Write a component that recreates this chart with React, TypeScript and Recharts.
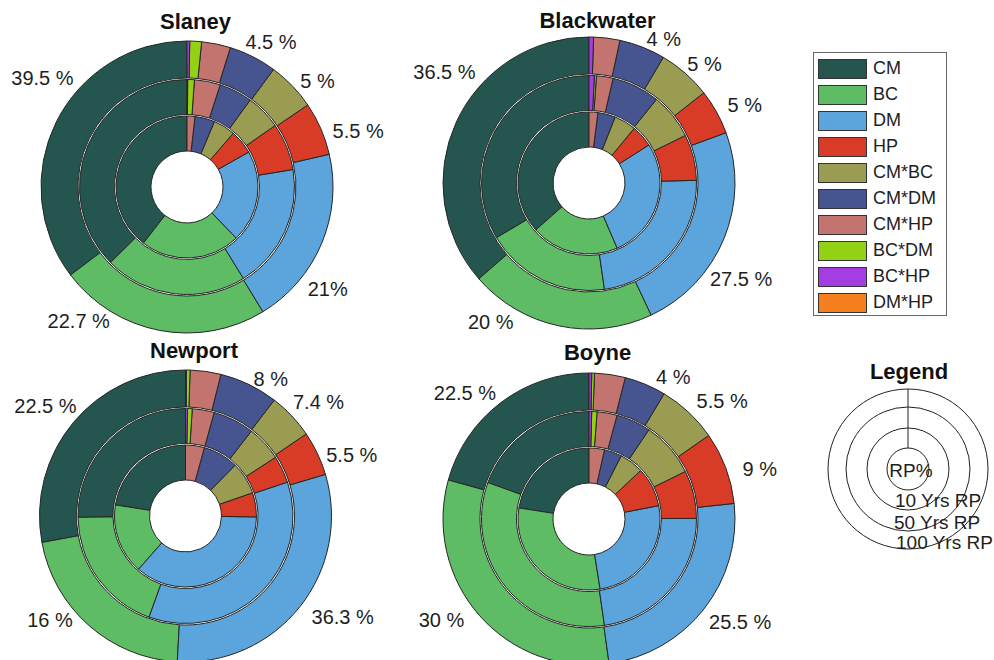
import React from 'react';
import { PieChart, Pie, Cell } from 'recharts';

const categories = ['CM', 'BC', 'DM', 'HP', 'CM*BC', 'CM*DM', 'CM*HP', 'BC*DM', 'BC*HP', 'DM*HP'];
const colors = ['#24564f', '#5dbc64', '#5ba4dc', '#d83b26', '#9a9c52', '#46558f', '#c3746f', '#92d113', '#a53ee2', '#f6801f'];
const ringNames = ['10 Yrs RP', '50 Yrs RP', '100 Yrs RP'];

// share (%) of each category, inner ring = 10 yrs, middle = 50 yrs, outer = 100 yrs
const slaney10 = [39.5, 22.7, 21, 5.5, 5, 4.5, 1.8, 0, 0, 0];
const slaney50 = [37.4, 21.4, 18.8, 7.1, 5.3, 5.0, 3.9, 1.0, 0.1, 0];
const slaney100 = [35.3, 23.4, 19.9, 5.9, 5.4, 5.3, 3.2, 1.3, 0.3, 0];
const slaneyLabels = ['39.5 %', '22.7 %', '21%', '5.5 %', '5 %', '4.5 %'];

const blackwater10 = [36.5, 20, 27.5, 5, 5, 4, 2, 0, 0, 0];
const blackwater50 = [33.5, 18.8, 23.1, 6.9, 6.9, 7.2, 2.5, 0.3, 0.8, 0];
const blackwater100 = [36.4, 20.6, 23.6, 5.0, 5.9, 5.1, 2.9, 0, 0.5, 0];
const blackwaterLabels = ['36.5 %', '20 %', '27.5 %', '5 %', '5 %', '4 %'];

const newport10 = [22.5, 16, 36.3, 5.5, 7.4, 8, 4.3, 0, 0, 0];
const newport50 = [25.2, 19.3, 35.6, 4.1, 5.3, 6.2, 3.3, 0.7, 0.3, 0];
const newport100 = [27.9, 21.2, 30.5, 4.9, 5.1, 6.5, 3.4, 0.4, 0.1, 0];
const newportLabels = ['22.5 %', '16 %', '36.3 %', '5.5 %', '7.4 %', '8 %'];

const boyne10 = [22.5, 30, 25.5, 9, 5.5, 4, 3.5, 0, 0, 0];
const boyne50 = [19.5, 32.8, 22.8, 7.2, 8.3, 5.2, 3.0, 0.8, 0.4, 0];
const boyne100 = [20.7, 31.5, 24.5, 8.0, 6.7, 4.6, 3.4, 0.3, 0.3, 0];
const boyneLabels = ['22.5 %', '30 %', '25.5 %', '9 %', '5.5 %', '4 %'];

// ring radii: inner, middle, outer
const RINGS = [
  [36, 71],
  [72.5, 107.5],
  [109, 146],
];

// layout: centre of each donut, title baseline, and where its % labels sit ([angle ccw from top, radius])
const sites = [
  {
    name: 'Slaney', cx: 187, cy: 187, titleY: 29, rings: [slaney10, slaney50, slaney100], labels: slaneyLabels,
    spots: [[53, 181], [141, 172], [234, 174], [288, 180], [309, 168], [330, 168]],
  },
  {
    name: 'Blackwater', cx: 589, cy: 183, titleY: 28, rings: [blackwater10, blackwater50, blackwater100], labels: blackwaterLabels,
    spots: [[52.6, 182], [144.7, 170], [237.7, 180], [296.5, 174], [315.9, 166], [332.5, 162]],
  },
  {
    name: 'Newport', cx: 185.5, cy: 516, titleY: 358, rings: [newport10, newport50, newport100], labels: newportLabels,
    spots: [[51.9, 178], [127.6, 171], [237.2, 187], [290, 177], [310.5, 175], [328, 161]],
  },
  {
    name: 'Boyne', cx: 589, cy: 519, titleY: 360, rings: [boyne10, boyne50, boyne100], labels: boyneLabels,
    spots: [[44.5, 177], [124.5, 179], [235.7, 183], [286.4, 178], [311.6, 178], [329.3, 165]],
  },
];

const FONT = '"Liberation Sans", Arial, Helvetica, sans-serif';

const toRows = (vals: number[]) => categories.map((c, i) => ({ name: c, value: vals[i] }));

const makeLabel = (site: any) => (props: any) => {
  const i = props.index;
  if (i >= site.labels.length) return null;
  const [a, r] = site.spots[i];
  const rad = (a * Math.PI) / 180;
  const x = site.cx - r * Math.sin(rad);
  const y = site.cy - r * Math.cos(rad);
  return (
    <text key={`lbl-${site.name}-${i}`} x={x} y={y} textAnchor="middle" dominantBaseline="central"
      fontSize={20} fill="#1e1e1e" fontFamily={FONT}>
      {site.labels[i]}
    </text>
  );
};

const App: React.FC = () => {
  return (
    <div style={{ position: 'absolute', left: 0, top: 0, width: 994, height: 660, background: '#fff', fontFamily: FONT }}>
      <PieChart width={994} height={660} margin={{ top: 0, right: 0, bottom: 0, left: 0 }}>
        {sites.map((site) =>
          site.rings.map((vals, ri) => (
            <Pie
              key={`${site.name}-${ri}`}
              name={ringNames[ri]}
              data={toRows(vals)}
              dataKey="value"
              nameKey="name"
              cx={site.cx}
              cy={site.cy}
              innerRadius={RINGS[ri][0]}
              outerRadius={RINGS[ri][1]}
              startAngle={90}
              endAngle={450}
              stroke="#262626"
              strokeWidth={1}
              label={ri === 0 ? makeLabel(site) : false}
              labelLine={false}
              isAnimationActive={false}
            >
              {vals.map((_, i) => (
                <Cell key={i} fill={colors[i]} />
              ))}
            </Pie>
          ))
        )}
      </PieChart>

      {/* titles + return period key */}
      <svg width={994} height={660} style={{ position: 'absolute', left: 0, top: 0, pointerEvents: 'none' }}>
        {sites.map((site) => (
          <text key={site.name} x={site.cx + 8.5} y={site.titleY} textAnchor="middle"
            fontSize={22} fontWeight="bold" fill="#111" fontFamily={FONT}>
            {site.name}
          </text>
        ))}
        <text x={909} y={379} textAnchor="middle" fontSize={22} fontWeight="bold" fill="#111" fontFamily={FONT}>Legend</text>
        {[80, 62, 41, 21].map((r) => (
          <circle key={r} cx={908} cy={469} r={r} fill="none" stroke="#222" strokeWidth={1} />
        ))}
        <line x1={908} y1={389} x2={908} y2={448} stroke="#222" strokeWidth={1} />
        <text x={911} y={477} textAnchor="middle" fontSize={19} fill="#1e1e1e" fontFamily={FONT}>RP%</text>
        <text x={895} y={507} fontSize={19} fill="#1e1e1e" fontFamily={FONT}>{ringNames[0]}</text>
        <text x={894} y={529} fontSize={19} fill="#1e1e1e" fontFamily={FONT}>{ringNames[1]}</text>
        <text x={896} y={549} fontSize={19} fill="#1e1e1e" fontFamily={FONT}>{ringNames[2]}</text>
      </svg>

      {/* category key */}
      <div style={{
        position: 'absolute', left: 813, top: 52, width: 132, height: 262,
        border: '1px solid #666', background: '#fff',
      }}>
        {categories.map((c, i) => (
          <div key={c} style={{ position: 'absolute', left: 4, top: 6 + i * 26, height: 19, display: 'flex', alignItems: 'center' }}>
            <div style={{ width: 47, height: 18, background: colors[i], border: '1px solid #333' }} />
            <span style={{ marginLeft: 6, fontSize: 18, color: '#1e1e1e', lineHeight: '19px' }}>{c}</span>
          </div>
        ))}
      </div>
    </div>
  );
};

export default App;
